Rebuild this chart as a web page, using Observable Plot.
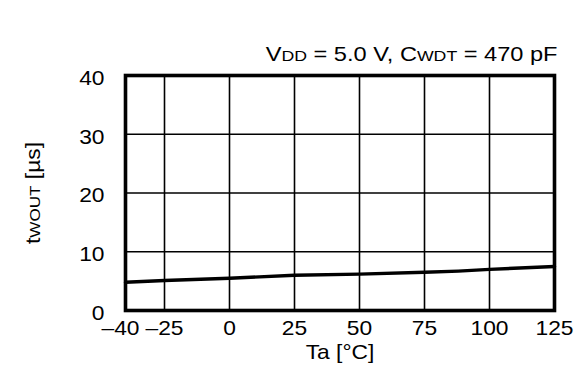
<!DOCTYPE html>
<html>
<head>
<meta charset="utf-8">
<script src="https://cdn.jsdelivr.net/npm/d3@7"></script>
<script src="https://cdn.jsdelivr.net/npm/@observablehq/plot@0.6"></script>
<style>
  html, body { margin: 0; padding: 0; background: white; }
  #chart svg { display: block; }
</style>
</head>
<body>
<div id="chart"></div>
<script>
// Data
const temps = [-40, -25, 0, 25, 50, 75, 88, 100, 125];
const twout = [4.8, 5.1, 5.5, 6.0, 6.2, 6.5, 6.7, 7.0, 7.5];
const xTicks = [-25, 0, 25, 50, 75, 100, 125];
const xTickFirst = [-40];
const yTicks = [0, 10, 20, 30, 40];
const xGrid = [-25, 0, 25, 50, 75, 100];
const yGrid = [10, 20, 30];
const titleParts = [["V", false], ["DD", true], [" = 5.0 V, C", false], ["WDT", true], [" = 470 pF", false]];
const yLabelParts = [["t", false], ["WOUT", true], [" [µs]", false]];
const xLabel = "Ta [°C]";

const FS = 20, SUB = 15, STRETCH = 1.14, TITLE_STRETCH = 1.18;
const data = temps.map((t, i) => ({t, v: twout[i]}));
const fmt = d => d < 0 ? "–" + Math.abs(d) : String(d);

const svg = Plot.plot({
  width: 583,
  height: 385,
  marginLeft: 125,
  marginRight: 29,
  marginTop: 75,
  marginBottom: 75,
  x: {domain: [-40, 125]},
  y: {domain: [0, 40]},
  style: {fontFamily: "'Liberation Sans', Arial, sans-serif", fontSize: FS + "px", color: "black", background: "white"},
  marks: [
    Plot.gridX(xGrid, {stroke: "black", strokeOpacity: 1, strokeWidth: 1.6}),
    Plot.gridY(yGrid, {stroke: "black", strokeOpacity: 1, strokeWidth: 1.6}),
    Plot.line(data, {x: "t", y: "v", stroke: "black", strokeWidth: 3.4}),
    Plot.frame({stroke: "black", strokeWidth: 3.6}),
    Plot.axisX(xTicks, {tickSize: 0, tickPadding: 10, fontSize: FS, tickFormat: fmt, label: null}),
    Plot.axisX(xTickFirst, {tickSize: 0, tickPadding: 10, fontSize: FS, tickFormat: fmt, dx: -5, label: null}),
    Plot.axisY(yTicks, {tickSize: 0, tickPadding: 21, fontSize: FS, dy: 3, label: null}),
    Plot.text([xLabel], {frameAnchor: "bottom", lineAnchor: "top", dy: 34, fontSize: FS, fill: "black"}),
    Plot.text(["__title__"], {frameAnchor: "top-right", textAnchor: "end", lineAnchor: "bottom", dx: 3, dy: -15, fontSize: FS, fill: "black"}),
    Plot.text(["__ylabel__"], {frameAnchor: "left", textAnchor: "middle", lineAnchor: "middle", rotate: -90, dx: -92, dy: 0, fontSize: FS, fill: "black"})
  ]
});

function setParts(node, parts) {
  const t = d3.select(node);
  t.text(null);
  parts.forEach(([s, sub]) => {
    t.append("tspan").attr("font-size", sub ? SUB : FS).text(s);
  });
}
svg.querySelectorAll("text").forEach(node => {
  let s = STRETCH;
  if (node.textContent === "__title__") { setParts(node, titleParts); s = TITLE_STRETCH; }
  else if (node.textContent === "__ylabel__") setParts(node, yLabelParts);
  // the reference lettering is slightly wide: stretch along the text direction
  const tr = node.getAttribute("transform") || "";
  node.setAttribute("transform", tr + ` scale(${s},1)`);
});

document.getElementById("chart").appendChild(svg);
</script>
</body>
</html>
